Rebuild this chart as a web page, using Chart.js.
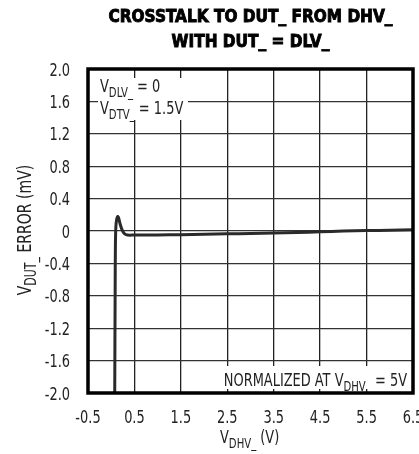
<!DOCTYPE html>
<html>
<head>
<meta charset="utf-8">
<script src="https://cdn.jsdelivr.net/npm/chart.js@4"></script>
<style>
  html, body { margin: 0; padding: 0; background: #fff; }
  #wrap { width: 419px; height: 454px; }
</style>
</head>
<body>
<div id="wrap"><canvas id="chart" width="419" height="454"></canvas></div>
<script>
// curve: V_DHV_ (V) vs V_DUT_ error (mV)
const xValues = [0.075, 0.08, 0.085, 0.09, 0.10, 0.12, 0.14, 0.16, 0.19, 0.23, 0.28, 0.35, 0.5, 1.0, 1.5, 2.0, 2.5, 3.0, 3.5, 4.0, 4.5, 5.0, 5.5, 6.0, 6.5];
const yValues = [-2.1, -1.4, -0.7, -0.2, 0.05, 0.15, 0.18, 0.16, 0.09, 0.02, -0.03, -0.05, -0.05, -0.05, -0.045, -0.04, -0.035, -0.03, -0.025, -0.02, -0.01, 0.0, 0.005, 0.01, 0.015];

const xTicks = [-0.5, 0.5, 1.5, 2.5, 3.5, 4.5, 5.5, 6.5];
const xTickLabels = ['-0.5', '0.5', '1.5', '2.5', '3.5', '4.5', '5.5', '6.5'];
const yTicks = [-2.0, -1.6, -1.2, -0.8, -0.4, 0, 0.4, 0.8, 1.2, 1.6, 2.0];
const yTickLabels = ['-2.0', '-1.6', '-1.2', '-0.8', '-0.4', '0', '0.4', '0.8', '1.2', '1.6', '2.0'];

const titleLines = ['CROSSTALK TO DUT_ FROM DHV_', 'WITH DUT_ = DLV_'];

const FONT = '"Liberation Sans Narrow", "DejaVu Sans Condensed", sans-serif';
const SQ = 0.8;   // sideways squeeze, the original uses a condensed face

// text with subscripts
function drawRich(ctx, parts, x, y, size, align) {
    let total = 0;
    parts.forEach(p => {
        ctx.font = (p.sub ? size * 0.78 : size) + 'px ' + FONT;
        total += ctx.measureText(p.t).width * SQ;
    });
    let cx = align === 'center' ? x - total / 2 : (align === 'right' ? x - total : x);
    parts.forEach(p => {
        ctx.font = (p.sub ? size * 0.78 : size) + 'px ' + FONT;
        ctx.save();
        ctx.translate(cx, p.sub ? y + size * 0.28 : y);
        ctx.scale(SQ, 1);
        ctx.textAlign = 'left';
        ctx.fillText(p.t, 0, 0);
        ctx.restore();
        cx += ctx.measureText(p.t).width * SQ;
    });
}

function drawText(ctx, t, x, y, size, align) {
    ctx.save();
    ctx.font = size + 'px ' + FONT;
    ctx.translate(x, y);
    ctx.scale(SQ, 1);
    ctx.textAlign = align;
    ctx.fillText(t, 0, 0);
    ctx.restore();
}

const decor = {
    id: 'decor',
    afterDraw(chart) {
        const ctx = chart.ctx;
        const a = chart.chartArea;
        const xs = chart.scales.x, ys = chart.scales.y;
        ctx.save();
        ctx.textBaseline = 'alphabetic';

        // title, condensed to the width of the original, heavy
        ctx.fillStyle = '#000';
        ctx.strokeStyle = '#000';
        ctx.lineWidth = 0.9;
        const mid = (a.left + a.right) / 2;
        ctx.font = 'bold 18.5px ' + FONT;
        const tsq = 284 / ctx.measureText(titleLines[0]).width;
        [[titleLines[0], 22], [titleLines[1], 47]].forEach(([t, yy]) => {
            ctx.save();
            ctx.translate(mid, yy);
            ctx.scale(tsq, 1);
            ctx.textAlign = 'center';
            ctx.fillText(t, 0, 0);
            ctx.strokeText(t, 0, 0);
            ctx.restore();
        });

        // tick labels
        ctx.fillStyle = '#222';
        xs.ticks.forEach(tk => {
            drawText(ctx, xTickLabels[xTicks.indexOf(tk.value)], xs.getPixelForValue(tk.value), 423, 18, 'center');
        });
        ys.ticks.forEach(tk => {
            drawText(ctx, yTickLabels[yTicks.indexOf(tk.value)], 70, ys.getPixelForValue(tk.value) + 6.5, 18, 'right');
        });

        // annotation boxes
        ctx.fillStyle = '#fff';
        ctx.fillRect(98, 78, 90, 42);
        ctx.fillRect(217, 366, a.right - 219, 23);
        ctx.fillStyle = '#222';
        drawRich(ctx, [{t: 'V'}, {t: 'DLV_', sub: true}, {t: ' = 0'}], 100, 92, 18, 'left');
        drawRich(ctx, [{t: 'V'}, {t: 'DTV_', sub: true}, {t: ' = 1.5V'}], 100, 114, 18, 'left');
        drawRich(ctx, [{t: 'NORMALIZED AT V'}, {t: 'DHV_', sub: true}, {t: ' = 5V'}], 407, 386, 18, 'right');

        // axis titles
        drawRich(ctx, [{t: 'V'}, {t: 'DHV_', sub: true}, {t: ' (V)'}], 220, 443, 18, 'left');
        ctx.save();
        ctx.translate(31, 230);
        ctx.rotate(-Math.PI / 2);
        drawRich(ctx, [{t: 'V'}, {t: 'DUT_', sub: true}, {t: ' ERROR (mV)'}], 0, 0, 19.5, 'center');
        ctx.restore();

        // frame
        ctx.strokeStyle = '#000';
        ctx.lineWidth = 3.5;
        ctx.strokeRect(a.left, a.top, a.right - a.left, a.bottom - a.top);
        ctx.restore();
    }
};

new Chart(document.getElementById('chart'), {
    type: 'line',
    data: {
        datasets: [{
            data: xValues.map((x, i) => ({x: x, y: yValues[i]})),
            borderColor: '#2a2a2a',
            borderWidth: 3,
            pointRadius: 0,
            tension: 0.3,
            fill: false
        }]
    },
    options: {
        responsive: false,
        animation: false,
        layout: {padding: {top: 69, right: 6, left: 0, bottom: 0}},
        plugins: {legend: {display: false}, tooltip: {enabled: false}},
        scales: {
            x: {
                type: 'linear',
                min: -0.5,
                max: 6.5,
                afterBuildTicks: s => { s.ticks = xTicks.map(v => ({value: v})); },
                afterFit: s => { s.height = 61; s.paddingLeft = 0; s.paddingRight = 0; },
                grid: {color: '#222', lineWidth: 1.3, drawTicks: false},
                border: {display: false},
                ticks: {display: false}
            },
            y: {
                min: -2,
                max: 2,
                afterBuildTicks: s => { s.ticks = yTicks.map(v => ({value: v})); },
                afterFit: s => { s.width = 88; s.paddingTop = 0; s.paddingBottom = 0; },
                grid: {color: '#333', lineWidth: 1.3, drawTicks: false},
                border: {display: false},
                ticks: {display: false}
            }
        }
    },
    plugins: [decor]
});
</script>
</body>
</html>
